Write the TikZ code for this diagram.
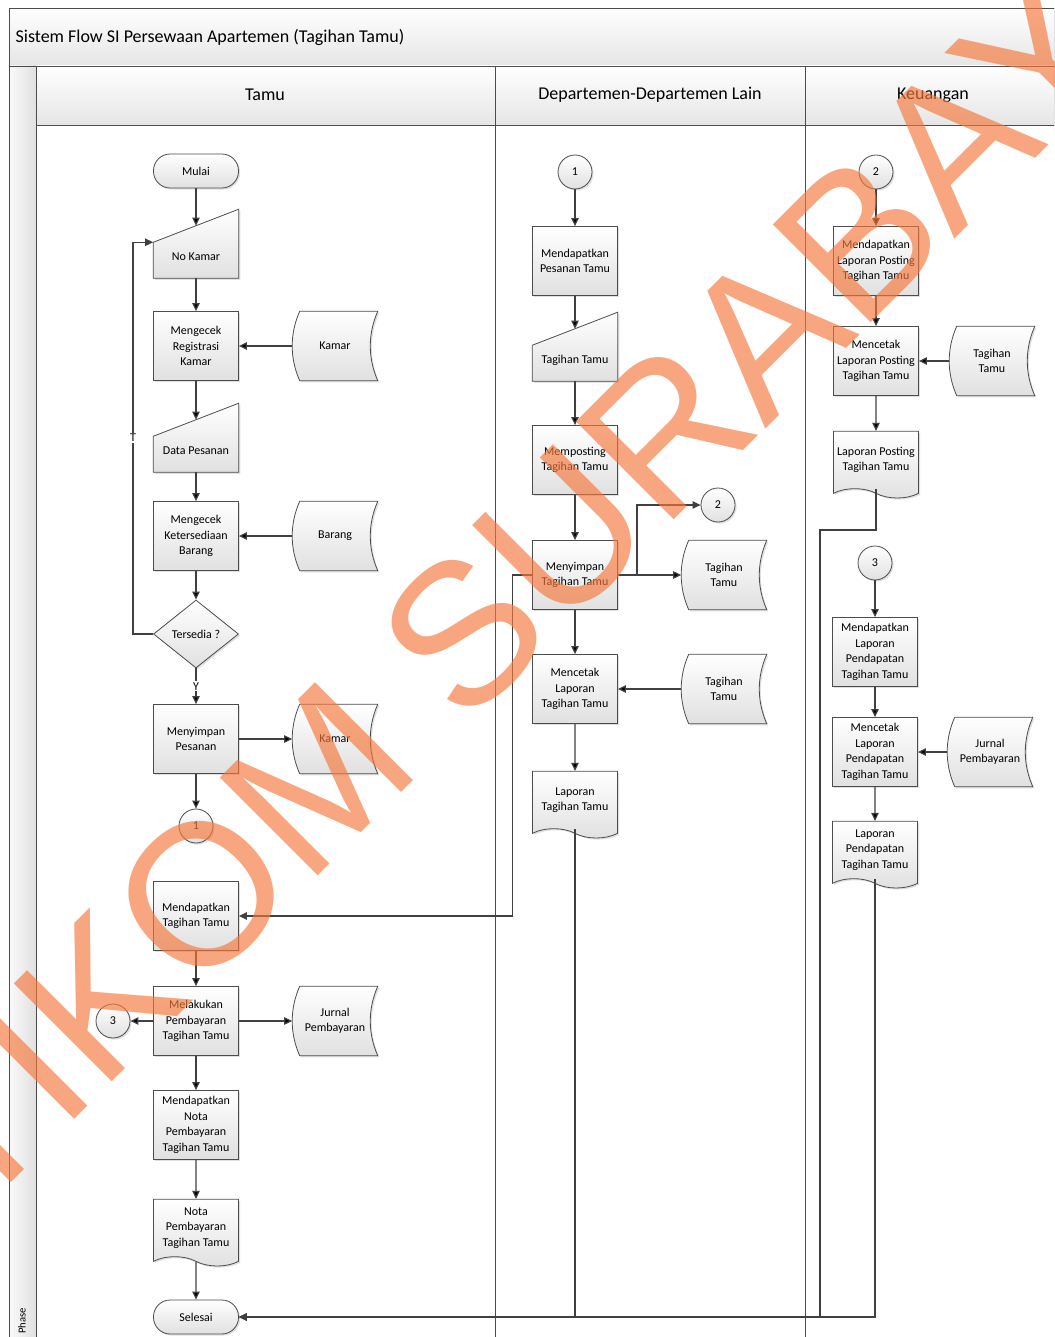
\documentclass[tikz,border=0pt]{standalone}
\usepackage{fontspec}
\setmainfont{Carlito}
\newfontfamily\wmfont{Liberation Sans}
\usetikzlibrary{shapes.geometric,shapes.symbols,shadows,backgrounds,arrows.meta}

\definecolor{wmorange}{RGB}{245,120,60}

% manual input outline around a text node
\newcommand{\inputshape}[1]{%
  \begin{scope}[on background layer]
    \draw[flow] (#1.south west) -- ([yshift=-12.4pt]#1.north west) -- ([yshift=12.4pt]#1.north east) -- (#1.south east) -- cycle;
  \end{scope}}

% stored data outline around a text node
\newcommand{\storeshape}[1]{%
  \begin{scope}[on background layer]
    \draw[flow] ([xshift=5.6pt]#1.north west) -- (#1.north east)
      .. controls +(-7.5pt,-17pt) and +(-7.5pt,17pt) .. (#1.south east)
      -- ([xshift=5.6pt]#1.south west)
      .. controls +(-7.5pt,17pt) and +(-7.5pt,-17pt) .. ([xshift=5.6pt]#1.north west) -- cycle;
  \end{scope}}

\begin{document}
\begin{tikzpicture}[x=0.75pt,y=-0.75pt,
    boxfont/.style={font=\fontsize{9}{11.6}\selectfont},
    flow/.style={draw=black!70, line width=0.6pt, top color=white, bottom color=black!12,
      drop shadow={shadow xshift=1.2pt, shadow yshift=-1.2pt, opacity=0.25}},
    proc/.style={flow, rectangle, boxfont, align=center, inner sep=1pt,
      minimum width=63.75pt, minimum height=51.75pt},
    term/.style={flow, rectangle, rounded corners=12.5pt, boxfont,
      minimum width=63.75pt, minimum height=25.5pt},
    dec/.style={flow, diamond, boxfont, inner sep=0pt, minimum width=63.75pt, minimum height=51pt},
    con/.style={flow, circle, boxfont, inner sep=0pt, minimum size=25.5pt},
    doc/.style={flow, tape, tape bend top=none, tape bend bottom=out and in, tape bend height=7pt,
      boxfont, align=center, inner sep=1pt, minimum width=63.75pt, minimum height=50pt},
    storebox/.style={boxfont, align=center, inner sep=0pt, minimum width=63.75pt, minimum height=51.75pt},
    inbox/.style={boxfont, inner sep=0pt, text height=15pt, text depth=2pt,
      minimum width=63.75pt, minimum height=39pt},
    arr/.style={draw=black!75, line width=0.9pt, -{Triangle[length=6pt,width=5.5pt]}},
    frame/.style={draw=black!70, line width=0.7pt},
    lbl/.style={fill=white, inner sep=1pt, font=\fontsize{9}{10}\selectfont},
    head/.style={font=\fontsize{13.5}{15}\selectfont},
    wm/.style={rotate=45, font=\wmfont\fontsize{151}{151}\selectfont, text=wmorange, text opacity=0.66}]

\useasboundingbox (0,0) rectangle (1054,1337);
\clip (0,0) rectangle (1054,1337);

% lanes
\fill[top color=white, bottom color=black!10] (9,8) rectangle (1060,66);
\fill[top color=white, bottom color=black!10] (36,66) rectangle (1060,125);
\fill[left color=black!2, right color=black!12] (9,66) rectangle (36,1340);
\draw[frame] (1060,8) -- (9,8) -- (9,1340);
\draw[frame] (9,66) -- (1060,66);
\draw[frame] (36,66) -- (36,1340);
\draw[frame] (36,125) -- (1060,125);
\draw[frame] (495,66) -- (495,1340);
\draw[frame] (805,66) -- (805,1340);

\node[head, anchor=west] (judul) at (11,37) {Sistem Flow SI Persewaan Apartemen (Tagihan Tamu)};
\node[head] (lanetamu) at (265,95) {Tamu};
\node[head] (lanedept) at (650,95) {Departemen-Departemen Lain};
\node[head] (laneuang) at (933,95) {Keuangan};
\node[rotate=90, font=\fontsize{8}{9}\selectfont] (phase) at (22,1321) {Phase};

% Tamu
\node[term] (mulai) at (196,171) {Mulai};
\node[inbox] (nokamar) at (196,252) {No Kamar};
\inputshape{nokamar}
\node[proc] (cekreg) at (196,346) {Mengecek\\Registrasi\\Kamar};
\node[storebox] (kamar1) at (335,346) {Kamar};
\storeshape{kamar1}
\node[inbox] (datapesanan) at (196,446) {Data Pesanan};
\inputshape{datapesanan}
\node[proc] (cekbarang) at (196,536) {Mengecek\\Ketersediaan\\Barang};
\node[storebox] (barang) at (335,536) {Barang};
\storeshape{barang}
\node[dec] (tersedia) at (196,634) {Tersedia ?};
\node[proc] (simpanpesanan) at (196,739) {Menyimpan\\Pesanan};
\node[storebox] (kamar2) at (335,739) {Kamar};
\storeshape{kamar2}
\node[con] (keluar1) at (196,826) {1};
\node[proc] (dapattagihan) at (196,916) {Mendapatkan\\Tagihan Tamu};
\node[proc] (bayar) at (196,1021) {Melakukan\\Pembayaran\\Tagihan Tamu};
\node[con] (keluar3) at (113,1021) {3};
\node[storebox] (jurnal1) at (335,1021) {Jurnal\\Pembayaran};
\storeshape{jurnal1}
\node[proc] (dapatnota) at (196,1125) {Mendapatkan\\Nota\\Pembayaran\\Tagihan Tamu};
\node[doc] (nota) at (196,1228) {Nota\\Pembayaran\\Tagihan Tamu};
\node[term] (selesai) at (196,1317) {Selesai};

% Departemen-Departemen Lain
\node[con] (masuk1) at (575,172) {1};
\node[proc] (dapatpesanan) at (575,261) {Mendapatkan\\Pesanan Tamu};
\node[inbox] (tagihaninput) at (575,355) {Tagihan Tamu};
\inputshape{tagihaninput}
\node[proc] (posting) at (575,460) {Memposting\\Tagihan Tamu};
\node[proc] (simpantagihan) at (575,575) {Menyimpan\\Tagihan Tamu};
\node[con] (keluar2) at (718,505) {2};
\node[storebox] (tagihan1) at (724,575) {Tagihan\\Tamu};
\storeshape{tagihan1}
\node[proc] (cetaklaporan) at (575,689) {Mencetak\\Laporan\\Tagihan Tamu};
\node[storebox] (tagihan2) at (724,689) {Tagihan\\Tamu};
\storeshape{tagihan2}
\node[doc] (laporan) at (575,800) {Laporan\\Tagihan Tamu};
\coordinate (cabang) at (637,575);

% Keuangan
\node[con] (masuk2) at (876,172) {2};
\node[proc] (dapatposting) at (876,261) {Mendapatkan\\Laporan Posting\\Tagihan Tamu};
\node[proc] (cetakposting) at (876,361) {Mencetak\\Laporan Posting\\Tagihan Tamu};
\node[storebox] (tagihan3) at (992,361) {Tagihan\\Tamu};
\storeshape{tagihan3}
\node[doc] (lapposting) at (876,460) {Laporan Posting\\Tagihan Tamu};
\node[con] (masuk3) at (875,563) {3};
\node[proc] (dapatpendapatan) at (875,652) {Mendapatkan\\Laporan\\Pendapatan\\Tagihan Tamu};
\node[proc] (cetakpendapatan) at (875,752) {Mencetak\\Laporan\\Pendapatan\\Tagihan Tamu};
\node[storebox] (jurnal2) at (990,752) {Jurnal\\Pembayaran};
\storeshape{jurnal2}
\node[doc] (lappendapatan) at (875,850) {Laporan\\Pendapatan\\Tagihan Tamu};

% connectors
\path[arr] (mulai) edge (nokamar);
\path[arr] (nokamar) edge (cekreg);
\path[arr] (kamar1) edge (cekreg);
\path[arr] (cekreg) edge (datapesanan);
\path[arr] (datapesanan) edge (cekbarang);
\path[arr] (barang) edge (cekbarang);
\path[arr] (cekbarang) edge (tersedia);
\draw[arr] (tersedia.west) -- (133,634) |- ([yshift=-12.4pt]nokamar.north west);
\node[lbl] (tlabel) at (133,438) {T};
\path[arr] (tersedia) edge node[lbl] (ylabel) {Y} (simpanpesanan);
\path[arr] (simpanpesanan) edge (kamar2);
\path[arr] (simpanpesanan) edge (keluar1);
\path[arr] (dapattagihan) edge (bayar);
\path[arr] (bayar) edge (keluar3);
\path[arr] (bayar) edge (jurnal1);
\path[arr] (bayar) edge (dapatnota);
\path[arr] (dapatnota) edge (nota);
\path[arr] (nota) edge (selesai);

\path[arr] (masuk1) edge (dapatpesanan);
\path[arr] (dapatpesanan) edge (tagihaninput);
\path[arr] (tagihaninput) edge (posting);
\path[arr] (posting) edge (simpantagihan);
\path[arr] (simpantagihan) edge (tagihan1);
\draw[arr] (cabang) |- (keluar2);
\draw[arr] (simpantagihan.west) -- ++(-20,0) |- (dapattagihan.east);
\path[arr] (simpantagihan) edge (cetaklaporan);
\path[arr] (tagihan2) edge (cetaklaporan);
\path[arr] (cetaklaporan) edge (laporan);
\draw[arr] (laporan.south) |- (selesai.east);

\path[arr] (masuk2) edge (dapatposting);
\path[arr] (dapatposting) edge (cetakposting);
\path[arr] (tagihan3) edge (cetakposting);
\path[arr] (cetakposting) edge (lapposting);
\draw[arr] (lapposting.south) |- (820,530) |- (selesai.east);
\path[arr] (masuk3) edge (dapatpendapatan);
\path[arr] (dapatpendapatan) edge (cetakpendapatan);
\path[arr] (jurnal2) edge (cetakpendapatan);
\path[arr] (cetakpendapatan) edge (lappendapatan);
\draw[arr] (lappendapatan.south) |- (selesai.east);

% watermark
\node[wm] (watermark) at (500,596) {STIKOM SURABAYA};

\end{tikzpicture}
\end{document}
